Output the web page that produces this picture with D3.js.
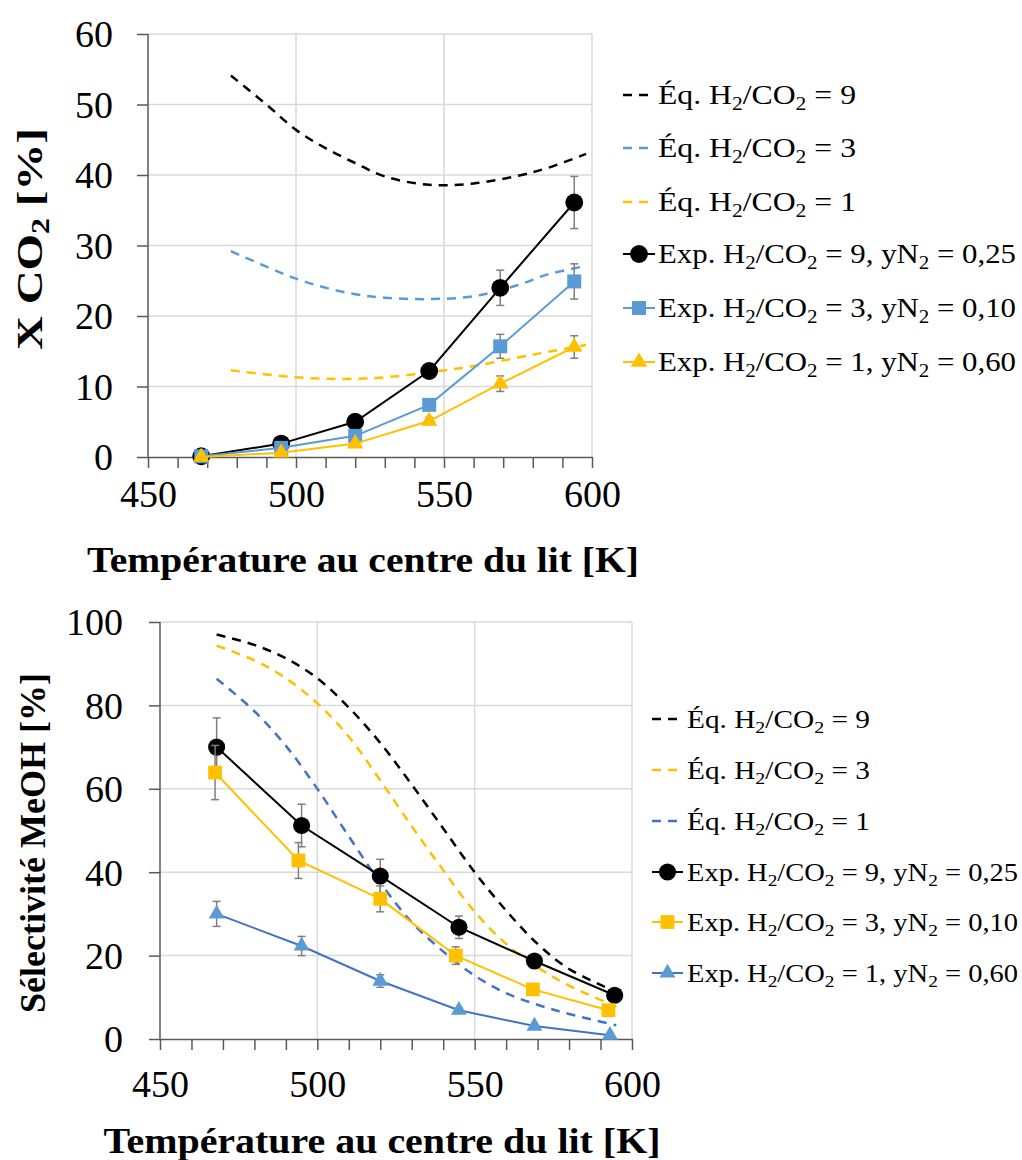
<!DOCTYPE html>
<html>
<head>
<meta charset="utf-8">
<script src="https://cdn.jsdelivr.net/npm/d3@7"></script>
<style>
body { margin: 0; background: #fff; }
text { font-family: "Liberation Serif", "Times New Roman", serif; }
</style>
</head>
<body>
<svg width="1022" height="1160"></svg>
<script>
// ---- top panel: CO2 conversion ----
var expTempTop = [468, 495, 520, 545, 569, 594];
var conv9 = [0.1, 1.9, 5.0, 12.2, 24.0, 36.1];
var conv9Err = [0.3, 0.3, 0.5, 1.0, 2.5, 3.7];
var conv3 = [0.1, 1.3, 3.0, 7.4, 15.7, 24.9];
var conv3Err = [0.2, 0.2, 0.3, 0.5, 1.7, 2.5];
var conv1 = [0.0, 0.6, 1.9, 5.1, 10.4, 15.6];
var conv1Err = [0.1, 0.2, 0.3, 0.5, 1.1, 1.6];

var eqTempTop = [478, 490, 500, 510, 520, 530, 545, 560, 575, 585, 598];
var eqConv9 = [54.1, 50.0, 46.4, 43.8, 41.7, 39.8, 38.6, 38.8, 39.9, 41.0, 43.0];
var eqConv3 = [29.2, 27.0, 25.3, 24.0, 23.1, 22.6, 22.4, 22.8, 24.4, 25.9, 27.1];
var eqConv1 = [12.3, 11.7, 11.3, 11.1, 11.1, 11.3, 12.0, 12.9, 14.1, 14.9, 15.9];

// ---- bottom panel: MeOH selectivity ----
var sel9Temp = [468, 495, 520, 545, 569, 594.5];
var sel9 = [70.0, 51.2, 39.1, 26.8, 18.7, 10.5];
var sel9Err = [7.0, 5.1, 4.0, 2.7, 1.0, 0.8];
var sel3Temp = [467.5, 494, 520, 544, 568.5, 592.5];
var sel3 = [63.9, 42.8, 33.6, 20.0, 11.9, 6.9];
var sel3Err = [6.5, 4.3, 3.1, 2.1, 0.6, 0.5];
var sel1Temp = [468, 495, 520, 545, 569, 593];
var sel1 = [30.0, 22.3, 13.9, 6.9, 3.1, 0.9];
var sel1Err = [3.0, 2.3, 1.5, 0.5, 0.3, 0.2];

var eqTempBot = [468, 480, 490, 500, 510, 520, 530, 540, 550, 560, 570, 580, 595];
var eqSel9 = [97.0, 94.5, 91.3, 86.5, 79.5, 71.0, 61.0, 50.5, 40.0, 30.8, 22.8, 16.8, 11.3];
var eqSel3 = [94.3, 90.8, 86.5, 80.5, 72.5, 62.0, 51.0, 40.5, 30.5, 22.8, 17.2, 12.8, 7.8];
var eqSel1 = [86.4, 78.6, 70.3, 60.0, 48.6, 37.5, 28.0, 21.0, 15.2, 11.0, 8.2, 6.0, 3.3];

var xTicks = d3.range(450, 601, 10);
var xGrid = [500, 550, 600];

var legendTop = ['Éq. H₂/CO₂ = 9', 'Éq. H₂/CO₂ = 3', 'Éq. H₂/CO₂ = 1',
  'Exp. H₂/CO₂ = 9, yN₂ = 0,25', 'Exp. H₂/CO₂ = 3, yN₂ = 0,10', 'Exp. H₂/CO₂ = 1, yN₂ = 0,60'];
var legendBot = ['Éq. H₂/CO₂ = 9', 'Éq. H₂/CO₂ = 3', 'Éq. H₂/CO₂ = 1',
  'Exp. H₂/CO₂ = 9, yN₂ = 0,25', 'Exp. H₂/CO₂ = 3, yN₂ = 0,10', 'Exp. H₂/CO₂ = 1, yN₂ = 0,60'];

var BLACK = '#000000', BLUE = '#5B9BD5', DBLUE = '#4472C4', ORANGE = '#FFC000';
var AXIS = '#595959', GRID = '#d9d9d9', ERR = '#7f7f7f';
var SERIF = '"Liberation Serif", "Times New Roman", serif';

var svg = d3.select('svg');

// puts a string with ₂ in it as tspans, the 2 lowered and smaller
function richText(sel, str, size) {
  var parts = str.split('₂');
  parts.forEach(function(p, i) {
    if (i > 0) {
      sel.append('tspan').attr('font-size', size * 0.68).attr('dy', size * 0.2).text('2');
    }
    if (p.length) {
      var t = sel.append('tspan').text(p);
      if (i > 0) t.attr('dy', -size * 0.2);
    }
  });
}

function drawPanel(p) {
  var x = d3.scaleLinear().domain([450, 600]).range(p.xr);
  var y = d3.scaleLinear().domain([0, p.ymax]).range(p.yr);
  var g = svg.append('g');

  // grid
  g.append('g').selectAll('line')
    .data(d3.range(p.ystep, p.ymax + 1, p.ystep))
    .enter().append('line')
    .attr('x1', x(450)).attr('x2', x(600))
    .attr('y1', function(d) { return y(d); }).attr('y2', function(d) { return y(d); })
    .attr('stroke', GRID).attr('stroke-width', 1.5);
  g.append('g').selectAll('line')
    .data(xGrid)
    .enter().append('line')
    .attr('x1', function(d) { return x(d); }).attr('x2', function(d) { return x(d); })
    .attr('y1', y(0)).attr('y2', y(p.ymax))
    .attr('stroke', GRID).attr('stroke-width', 1.5);

  // axes
  var xa = d3.axisBottom(x).tickValues(xTicks).tickSize(11).tickSizeOuter(0)
    .tickFormat(function(d) { return d % 50 === 0 ? d : ''; });
  var gx = g.append('g').attr('transform', 'translate(0,' + y(0) + ')').call(xa);
  var ya = d3.axisLeft(y).tickValues(d3.range(0, p.ymax + 1, p.ystep)).tickSize(11)
    .tickSizeOuter(0).tickPadding(p.ypad);
  var gy = g.append('g').attr('transform', 'translate(' + x(450) + ',0)').call(ya);
  [gx, gy].forEach(function(a) {
    a.attr('font-size', 38).attr('color', AXIS);
    a.selectAll('path, line').attr('stroke-width', 1.5);
    a.selectAll('text').attr('fill', '#000').style('font-family', SERIF);
  });
  gx.selectAll('.tick text').attr('y', p.xLabelY - y(0)).attr('dy', 0);
  gy.selectAll('.tick text').attr('dy', '0.34em');
  gy.select('.domain').remove();
  gy.append('line').attr('x1', 0).attr('x2', 0).attr('y1', y(0)).attr('y2', y(p.ymax))
    .attr('stroke', AXIS).attr('stroke-width', 1.5);

  // equilibrium curves
  var line = d3.line()
    .x(function(d) { return x(d[0]); })
    .y(function(d) { return y(d[1]); })
    .curve(d3.curveCatmullRom);
  p.eq.forEach(function(s) {
    g.append('path')
      .attr('d', line(d3.zip(s.t, s.v)))
      .attr('fill', 'none').attr('stroke', s.color)
      .attr('stroke-width', 2.5).attr('stroke-dasharray', '9,7');
  });

  // experiments
  var lineStraight = d3.line()
    .x(function(d) { return x(d[0]); })
    .y(function(d) { return y(d[1]); });
  p.exp.forEach(function(s) {
    var pts = d3.zip(s.t, s.v, s.e);
    g.append('path')
      .attr('d', lineStraight(pts))
      .attr('fill', 'none').attr('stroke', s.line).attr('stroke-width', 2);
    var eb = g.append('g').attr('stroke', ERR).attr('stroke-width', 1.5);
    pts.forEach(function(d) {
      var cx = x(d[0]);
      eb.append('line').attr('x1', cx).attr('x2', cx).attr('y1', y(d[1] - d[2])).attr('y2', y(d[1] + d[2]));
      eb.append('line').attr('x1', cx - 4).attr('x2', cx + 4).attr('y1', y(d[1] - d[2])).attr('y2', y(d[1] - d[2]));
      eb.append('line').attr('x1', cx - 4).attr('x2', cx + 4).attr('y1', y(d[1] + d[2])).attr('y2', y(d[1] + d[2]));
    });
    g.append('g').selectAll('path').data(pts).enter().append('path')
      .attr('transform', function(d) { return 'translate(' + x(d[0]) + ',' + y(d[1]) + ')'; })
      .attr('d', d3.symbol().type(s.sym).size(s.size))
      .attr('fill', s.fill);
  });

  // axis titles
  g.append('text')
    .attr('x', p.xTitle[0]).attr('y', p.xTitle[1])
    .attr('text-anchor', 'middle')
    .attr('font-weight', 'bold').attr('font-size', 36)
    .attr('textLength', p.xTitle[2]).attr('lengthAdjust', 'spacingAndGlyphs')
    .text('Température au centre du lit [K]');
  var yt = g.append('text')
    .attr('transform', 'translate(' + p.yTitle[0] + ',' + p.yTitle[1] + ') rotate(-90)')
    .attr('text-anchor', 'middle')
    .attr('font-weight', 'bold').attr('font-size', 36)
    .attr('textLength', p.yTitle[2]).attr('lengthAdjust', 'spacingAndGlyphs');
  richText(yt, p.yLabel, 36);

  // legend
  var lg = g.append('g');
  p.legend.forEach(function(label, i) {
    var ly = p.legY[i];
    var item = i < 3 ? p.eq[i] : p.exp[i - 3];
    if (i < 3) {
      lg.append('line').attr('x1', p.legX[0]).attr('x2', p.legX[1]).attr('y1', ly).attr('y2', ly)
        .attr('stroke', item.color).attr('stroke-width', 2.5).attr('stroke-dasharray', '9,7');
    } else {
      lg.append('line').attr('x1', p.legX[0]).attr('x2', p.legX[2]).attr('y1', ly).attr('y2', ly)
        .attr('stroke', item.line).attr('stroke-width', 2);
      lg.append('path')
        .attr('transform', 'translate(' + ((p.legX[0] + p.legX[2]) / 2) + ',' + ly + ')')
        .attr('d', d3.symbol().type(item.sym).size(item.size))
        .attr('fill', item.fill);
    }
    var t = lg.append('text')
      .attr('x', p.legX[3]).attr('y', ly + p.legFont * 0.33)
      .attr('font-size', p.legFont)
      .attr('textLength', i < 3 ? p.legW[0] : p.legW[1]).attr('lengthAdjust', 'spacingAndGlyphs');
    richText(t, label, p.legFont);
  });
}

drawPanel({
  xr: [148, 592], yr: [457, 34], ymax: 60, ystep: 10, ypad: 24, xLabelY: 507,
  xTitle: [363, 572, 552], yTitle: [42, 239, 222], yLabel: 'X CO₂ [%]',
  eq: [
    { t: eqTempTop, v: eqConv9, color: BLACK },
    { t: eqTempTop, v: eqConv3, color: BLUE },
    { t: eqTempTop, v: eqConv1, color: ORANGE }
  ],
  exp: [
    { t: expTempTop, v: conv9, e: conv9Err, line: BLACK, fill: BLACK, sym: d3.symbolCircle, size: 250 },
    { t: expTempTop, v: conv3, e: conv3Err, line: BLUE, fill: BLUE, sym: d3.symbolSquare, size: 196 },
    { t: expTempTop, v: conv1, e: conv1Err, line: ORANGE, fill: ORANGE, sym: d3.symbolTriangle, size: 120 }
  ],
  legend: legendTop,
  legY: [95, 148, 202, 254, 308, 362],
  legX: [623, 648, 655, 658], legFont: 28, legW: [198, 358]
});

drawPanel({
  xr: [160, 632], yr: [1039, 622], ymax: 100, ystep: 20, ypad: 26, xLabelY: 1097,
  xTitle: [382, 1153, 557], yTitle: [45, 843, 340], yLabel: 'Sélectivité MeOH [%]',
  eq: [
    { t: eqTempBot, v: eqSel9, color: BLACK },
    { t: eqTempBot, v: eqSel3, color: ORANGE },
    { t: eqTempBot, v: eqSel1, color: DBLUE }
  ],
  exp: [
    { t: sel9Temp, v: sel9, e: sel9Err, line: BLACK, fill: BLACK, sym: d3.symbolCircle, size: 230 },
    { t: sel3Temp, v: sel3, e: sel3Err, line: ORANGE, fill: ORANGE, sym: d3.symbolSquare, size: 190 },
    { t: sel1Temp, v: sel1, e: sel1Err, line: DBLUE, fill: BLUE, sym: d3.symbolTriangle, size: 110 }
  ],
  legend: legendBot,
  legY: [719, 770, 821, 872, 922, 973],
  legX: [652, 683, 683, 687], legFont: 26, legW: [183, 331]
});
</script>
</body>
</html>
